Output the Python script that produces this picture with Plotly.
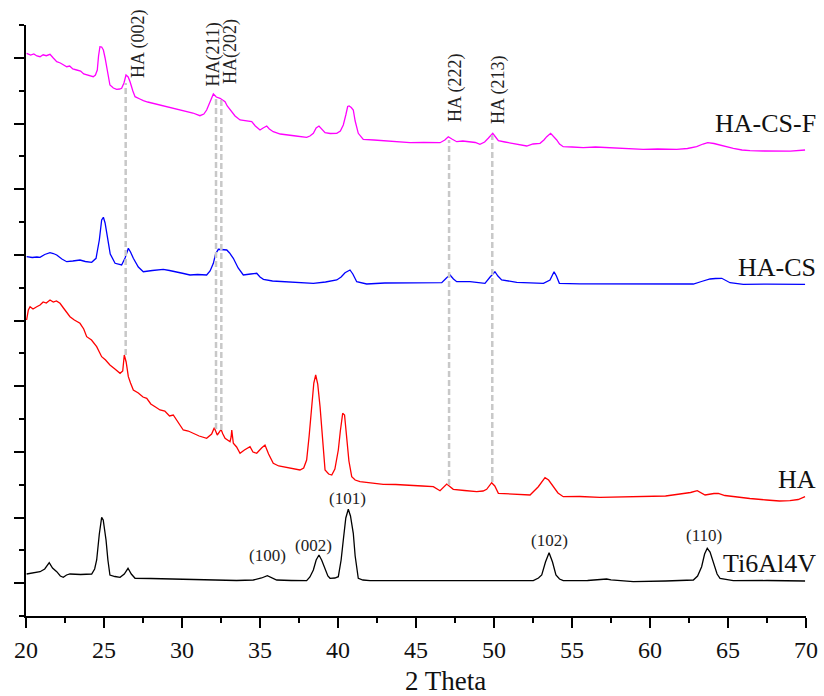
import plotly.graph_objects as go

# ---------------- data (2 Theta in degrees, intensity in a.u.) ----------------
hacsf_x = [20.04, 20.3, 20.5, 20.7, 20.9, 21.1, 21.3, 21.54, 21.75, 21.97, 22.2, 22.4, 22.61, 22.8, 23.0,
           23.25, 23.5, 23.7, 23.89, 24.1, 24.31, 24.45, 24.57, 24.65, 24.74, 24.85, 24.96, 25.07, 25.17,
           25.28, 25.38, 25.6, 25.81, 26.0, 26.13, 26.28, 26.41, 26.55, 26.67, 26.85, 26.99, 27.3, 27.52,
           27.8, 28.16, 28.5, 28.8, 29.1, 29.44, 29.9, 30.3, 30.7, 31.15, 31.4, 31.58, 31.8, 32.01, 32.2,
           32.44, 32.6, 32.76, 32.9, 33.08, 33.4, 33.72, 34.1, 34.47, 34.7, 35.0, 35.2, 35.43, 35.6, 35.85,
           36.3, 36.71, 37.3, 37.99, 38.2, 38.42, 38.6, 38.78, 38.95, 39.17, 39.5, 39.92, 40.15, 40.34,
           40.5, 40.62, 40.71, 40.85, 40.98, 41.1, 41.3, 41.62, 42.3, 43.12, 43.9, 44.62, 45.5, 46.54,
           46.85, 47.07, 47.3, 47.61, 48.0, 48.46, 48.8, 49.1, 49.4, 49.63, 49.92, 50.1, 50.28, 50.7,
           51.24, 51.7, 52.1, 52.5, 52.95, 53.2, 53.38, 53.63, 53.8, 54.02, 54.2, 54.44, 55.0, 55.72,
           56.5, 57.44, 58.5, 59.57, 60.5, 61.71, 62.4, 62.99, 63.4, 63.7, 64.1, 64.49, 64.9, 65.34,
           65.9, 66.41, 67.3, 68.12, 69.0, 69.94]
hacsf_y = [5627, 5610, 5620, 5600, 5593, 5612, 5603, 5617, 5580, 5543, 5530, 5510, 5493, 5500, 5470,
           5460, 5450, 5420, 5410, 5400, 5393, 5410, 5460, 5600, 5693, 5690, 5660, 5580, 5493,
           5380, 5310, 5280, 5267, 5270, 5277, 5330, 5410, 5390, 5343, 5250, 5193, 5170, 5153,
           5140, 5127, 5110, 5100, 5090, 5077, 5060, 5043, 5030, 5003, 5020, 5060, 5150, 5220, 5190,
           5177, 5160, 5143, 5100, 5060, 5000, 4960, 4950, 4943, 4900, 4860, 4880, 4900, 4870, 4843,
           4820, 4810, 4800, 4787, 4800, 4827, 4880, 4900, 4870, 4833, 4825, 4827, 4850, 4910,
           5010, 5095, 5100, 5085, 5060, 4950, 4827, 4767, 4760, 4750, 4740, 4733, 4735, 4733,
           4760, 4793, 4770, 4743, 4750, 4743, 4735, 4717, 4740, 4777, 4827, 4790, 4753, 4740,
           4727, 4710, 4700, 4720, 4727, 4760, 4793, 4827, 4800, 4760, 4720, 4693, 4690, 4683,
           4690, 4683, 4675, 4667, 4670, 4667, 4675, 4693, 4720, 4733, 4725, 4710, 4690, 4677,
           4660, 4653, 4650, 4650, 4648, 4660]

hacs_x = [20.04, 20.4, 20.7, 20.9, 21.2, 21.54, 21.75, 21.97, 22.3, 22.61, 23.0, 23.46, 23.8, 24.21,
          24.49, 24.7, 24.85, 24.96, 25.07, 25.17, 25.4, 25.71, 26.13, 26.35, 26.56, 26.7, 26.88, 27.2,
          27.52, 28.1, 28.8, 29.2, 29.66, 30.1, 30.51, 31.0, 31.58, 31.8, 32.01, 32.15, 32.33, 32.6,
          32.87, 33.05, 33.29, 33.6, 33.93, 34.4, 34.79, 35.0, 35.22, 35.8, 36.5, 37.0, 37.56, 38.42,
          39.2, 39.92, 40.2, 40.45, 40.77, 40.95, 41.2, 41.84, 43.0, 44.62, 45.7, 46.65, 46.95, 47.18,
          47.4, 47.61, 48.46, 49.0, 49.42, 49.75, 50.06, 50.25, 50.49, 51.46, 52.3, 53.17, 53.59,
          53.85, 54.0, 54.19, 55.5, 57.44, 59.57, 61.2, 62.78, 63.3, 63.85, 64.2, 64.6, 65.13, 65.98,
          67.5, 69.94]
hacs_y = [3593, 3585, 3590, 3587, 3615, 3633, 3625, 3610, 3570, 3543, 3550, 3560, 3545, 3537,
          3577, 3760, 3960, 3987, 3930, 3827, 3620, 3527, 3510, 3580, 3677, 3640, 3577, 3490,
          3443, 3455, 3467, 3455, 3443, 3425, 3410, 3415, 3410, 3450, 3527, 3620, 3667, 3665,
          3660, 3630, 3577, 3480, 3410, 3420, 3427, 3390, 3367, 3350, 3343, 3340, 3333, 3327,
          3340, 3360, 3390, 3433, 3460, 3420, 3343, 3320, 3330, 3333, 3330, 3333, 3380, 3410,
          3370, 3343, 3343, 3335, 3327, 3390, 3443, 3400, 3360, 3337, 3330, 3327, 3360,
          3443, 3400, 3327, 3322, 3320, 3317, 3320, 3320, 3345, 3370, 3375, 3377, 3333, 3317,
          3318, 3317]

ha_x = [20.04, 20.15, 20.26, 20.45, 20.69, 20.9, 21.1, 21.3, 21.54, 21.75, 21.95, 22.18, 22.4, 22.6,
        22.82, 23.1, 23.46, 23.7, 23.89, 24.2, 24.53, 24.7, 24.85, 25.1, 25.38, 25.7, 26.03, 26.2,
        26.3, 26.42, 26.56, 26.7, 26.88, 27.2, 27.5, 27.74, 28.0, 28.3, 28.59, 28.9, 29.2, 29.44,
        29.7, 30.08, 30.4, 30.72, 31.1, 31.58, 31.9, 32.07, 32.18, 32.26, 32.4, 32.5, 32.62, 32.76,
        33.08, 33.15, 33.19, 33.29, 33.5, 33.72, 34.0, 34.36, 34.55, 34.79, 35.1, 35.32, 35.55,
        35.85, 36.2, 36.71, 37.1, 37.56, 37.8, 37.99, 38.15, 38.31, 38.45, 38.57, 38.7, 38.85,
        39.0, 39.17, 39.4, 39.6, 39.8, 40.02, 40.15, 40.3, 40.42, 40.56, 40.7, 40.88, 41.1, 41.41,
        42.0, 42.9, 43.7, 44.62, 45.4, 46.11, 46.54, 46.97, 47.39, 48.1, 48.89, 49.3, 49.53, 49.85,
        50.05, 50.28, 51.2, 52.31, 52.84, 53.05, 53.27, 53.5, 53.8, 54.1, 54.44, 55.5, 56.79, 58.3,
        60.0, 61.0, 61.92, 62.6, 63.03, 63.53, 64.1, 64.38, 64.8, 65.34, 66.4, 67.47, 68.3, 68.97,
        69.5, 69.94]
ha_y = [2960, 3060, 3093, 3070, 3093, 3110, 3140, 3130, 3160, 3140, 3150, 3127, 3080, 3040,
        2993, 2960, 2927, 2870, 2793, 2760, 2693, 2640, 2593, 2560, 2510, 2470, 2427, 2450,
        2610, 2540, 2393, 2330, 2260, 2230, 2190, 2177, 2120, 2090, 2060, 2050, 2000, 2010,
        1950, 1860, 1850, 1827, 1800, 1777, 1820, 1883, 1830, 1810, 1840, 1867, 1820, 1777,
        1743, 1790, 1860, 1727, 1690, 1627, 1660, 1693, 1640, 1627, 1680, 1710, 1620,
        1527, 1500, 1483, 1470, 1460, 1480, 1560, 1800, 2093, 2330, 2410, 2320, 2093,
        1750, 1460, 1420, 1410, 1470, 1660, 1850, 2027, 2010, 1793, 1550, 1393, 1360, 1343,
        1330, 1317, 1315, 1310, 1300, 1293, 1253, 1320, 1267, 1255, 1243, 1250, 1267, 1333,
        1300, 1227, 1220, 1210, 1293, 1340, 1383, 1360, 1293, 1230, 1193, 1195, 1187, 1190,
        1193, 1200, 1220, 1235, 1253, 1210, 1225, 1227, 1205, 1193, 1175, 1160, 1150, 1153,
        1165, 1193]

ti_x = [20.04, 20.5, 20.9, 21.2, 21.49, 21.7, 21.97, 22.2, 22.39, 22.6, 22.82, 23.5, 24.21, 24.4,
        24.53, 24.7, 24.85, 24.95, 25.05, 25.13, 25.25, 25.38, 25.7, 26.03, 26.3, 26.54, 26.75,
        26.99, 28.0, 29.23, 30.8, 32.44, 33.5, 34.57, 35.1, 35.47, 35.8, 36.07, 37.0, 37.99, 38.2,
        38.42, 38.6, 38.78, 38.95, 39.17, 39.35, 39.49, 39.8, 40.02, 40.2, 40.34, 40.5, 40.66, 40.8,
        40.98, 41.1, 41.3, 41.6, 42.05, 45.26, 48.0, 50.5, 52.52, 52.85, 53.06, 53.3, 53.53, 53.75,
        53.97, 54.2, 54.44, 56.0, 56.79, 57.22, 57.5, 58.93, 61.0, 62.78, 63.05, 63.31, 63.5, 63.67,
        63.85, 64.06, 64.3, 64.49, 65.34, 67.5, 69.62, 69.94]
ti_y = [420, 430, 443, 470, 533, 480, 443, 400, 387, 410, 420, 415, 420, 470,
        560, 820, 987, 960, 850, 760, 560, 410, 395, 387, 420, 477, 420,
        377, 375, 370, 360, 353, 355, 360, 380, 403, 380, 360, 355, 353, 390,
        460, 560, 610, 560, 460, 400, 377, 380, 393, 560, 760, 980, 1067, 1000,
        827, 600, 377, 360, 353, 353, 355, 352, 353, 380, 410, 540, 633, 540,
        410, 370, 353, 355, 360, 370, 362, 343, 350, 360, 400, 493, 620, 677,
        640, 527, 420, 377, 353, 355, 353, 350]

series_names = ["HA-CS-F", "HA-CS", "HA", "Ti6Al4V"]
series_colors = ["#ff00ff", "#0000ff", "#ff0000", "#000000"]
series_label_y = [4930, 3490, 1370, 530]

# Ti6Al4V peak labels
ti_peak_labels = ["(100)", "(002)", "(101)", "(102)", "(110)"]
ti_peak_x = [35.45, 38.46, 40.64, 53.53, 63.46]
ti_peak_y = [610, 710, 1180, 760, 810]

# HA reference lines
ha_ref_labels = ["HA (002)", "HA(211)", "HA(202)", "HA (222)", "HA (213)"]
ha_ref_x = [26.39, 32.18, 32.52, 47.12, 49.89]
ha_ref_top = [5330, 5190, 5160, 4760, 4810]
ha_ref_bottom = [2610, 1870, 1860, 1310, 1340]
ha_label_x = [27.18, 31.96, 33.08, 47.5, 50.26]
ha_label_y = [5720, 5610, 5640, 5280, 5260]

FONT = "Liberation Serif, Times New Roman, serif"
Y_MAX = 5910
Y_STEP = Y_MAX / 18

fig = go.Figure()
for xs, ys, name, col in zip([hacsf_x, hacs_x, ha_x, ti_x], [hacsf_y, hacs_y, ha_y, ti_y],
                             series_names, series_colors):
    fig.add_trace(go.Scatter(x=xs, y=ys, mode="lines", name=name,
                             line=dict(color=col, width=1.3), showlegend=False))

# dashed HA reference lines
for xv, y0, y1 in zip(ha_ref_x, ha_ref_bottom, ha_ref_top):
    fig.add_shape(type="line", xref="x", yref="y", x0=xv, x1=xv, y0=y0, y1=y1,
                  line=dict(color="#c8c8c8", width=2.5, dash="6px,3px"), layer="above")

annotations = []
for txt, xv, yv in zip(ha_ref_labels, ha_label_x, ha_label_y):
    annotations.append(dict(text=txt, x=xv, y=yv, xref="x", yref="y", showarrow=False,
                            textangle=-90, font=dict(family=FONT, size=18, color="#222222"),
                            xanchor="center", yanchor="middle"))
for txt, xv, yv in zip(ti_peak_labels, ti_peak_x, ti_peak_y):
    annotations.append(dict(text=txt, x=xv, y=yv, xref="x", yref="y", showarrow=False,
                            font=dict(family=FONT, size=17, color="#222222"),
                            xanchor="center", yanchor="middle"))
# series names sit just past the right end of the x axis (paper coords: 1.0 = 2Theta 70)
for txt, yv in zip(series_names, series_label_y):
    annotations.append(dict(text=txt, x=1.016, y=yv, xref="paper", yref="y", showarrow=False,
                            font=dict(family=FONT, size=26, color="#111111"),
                            xanchor="right", yanchor="middle"))
annotations.append(dict(text="2 Theta", x=46.9, y=-0.11, xref="x", yref="paper", showarrow=False,
                        font=dict(family=FONT, size=27, color="#111111"),
                        xanchor="center", yanchor="middle"))

fig.update_layout(
    width=824, height=696,
    margin=dict(l=26, r=18, t=25, b=80, autoexpand=False),
    paper_bgcolor="white", plot_bgcolor="white",
    font=dict(family=FONT, color="#111111"),
    annotations=annotations,
    xaxis=dict(range=[20, 70], tick0=20, dtick=5, showgrid=False, zeroline=False,
               showline=True, linecolor="black", linewidth=2, ticks="outside", ticklen=10,
               tickwidth=2, tickcolor="black", tickfont=dict(family=FONT, size=24, color="#111111"),
               ticklabelstandoff=1,
               minor=dict(dtick=2.5, tick0=20, ticks="outside", ticklen=5, tickwidth=2,
                          tickcolor="black", showgrid=False)),
    yaxis=dict(range=[0, Y_MAX], tick0=Y_STEP, dtick=2 * Y_STEP, showgrid=False, zeroline=False,
               showline=True, linecolor="black", linewidth=2, ticks="outside", ticklen=10,
               tickwidth=2, tickcolor="black", showticklabels=False,
               minor=dict(dtick=Y_STEP, tick0=0, ticks="outside", ticklen=5, tickwidth=2,
                          tickcolor="black", showgrid=False)),
)

fig.write_html("out.html", config={"displayModeBar": False},
               post_script="document.body.style.margin='0';document.body.style.overflow='hidden';")
